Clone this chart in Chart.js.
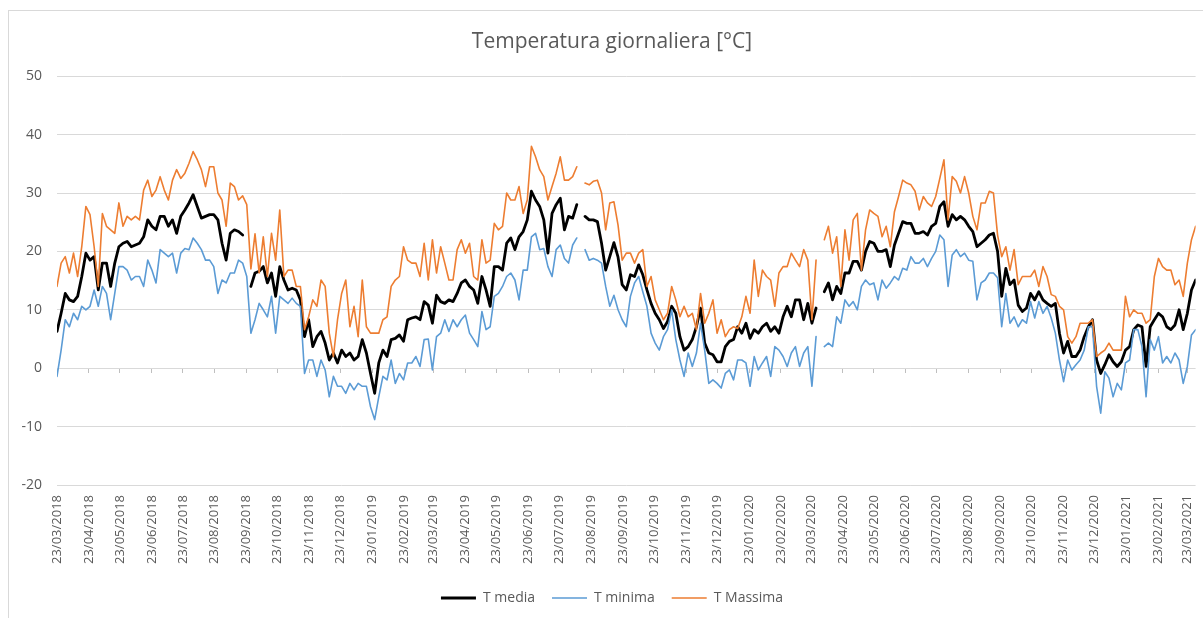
<!DOCTYPE html>
<html lang="it">
<head>
<meta charset="utf-8">
<title>Temperatura giornaliera</title>
<script src="https://cdn.jsdelivr.net/npm/chart.js@4.4.1/dist/chart.umd.min.js"></script>
<style>
  html, body { margin: 0; padding: 0; background: #fff; overflow: hidden; }
  #cornice { position: absolute; left: 8px; top: 10px; width: 1220px; height: 620px; border: 1px solid #d9d9d9; }
  #grafico { display: block; }
</style>
</head>
<body>
<div id="cornice"><canvas id="grafico" width="1204" height="607"></canvas></div>
<script>
// Temperature giornaliere, un valore ogni 4 giorni
// a partire dal 23/03/2018 (null = dato mancante, la linea si interrompe).
const PASSO_GIORNI = 4;
const GIORNO_FINALE = 1104;

const ETICHETTE_DATE = [
  "23/03/2018", "23/04/2018", "23/05/2018", "23/06/2018", "23/07/2018", "23/08/2018",
  "23/09/2018", "23/10/2018", "23/11/2018", "23/12/2018", "23/01/2019", "23/02/2019",
  "23/03/2019", "23/04/2019", "23/05/2019", "23/06/2019", "23/07/2019", "23/08/2019",
  "23/09/2019", "23/10/2019", "23/11/2019", "23/12/2019", "23/01/2020", "23/02/2020",
  "23/03/2020", "23/04/2020", "23/05/2020", "23/06/2020", "23/07/2020", "23/08/2020",
  "23/09/2020", "23/10/2020", "23/11/2020", "23/12/2020", "23/01/2021", "23/02/2021",
  "23/03/2021",
];

const T_MEDIA = [
  6.3, 9.4, 12.8, 11.7, 11.4, 12.3, 15.7, 19.7, 18.5, 19.1, 13.4, 18.0,
  18.0, 14.0, 18.0, 20.8, 21.4, 21.7, 20.8, 21.1, 21.4, 22.5, 25.4, 24.3,
  23.7, 26.0, 26.0, 24.3, 25.4, 23.1, 26.0, 27.1, 28.3, 29.7, 27.7, 25.7,
  26.0, 26.3, 26.3, 25.4, 21.4, 18.5, 23.1, 23.7, 23.4, 22.8, null, 14.0,
  16.3, 16.6, 17.4, 14.6, 16.3, 12.3, 17.4, 15.1, 13.4, 13.7, 13.4, 11.7,
  5.4, 8.3, 3.7, 5.4, 6.3, 4.3, 1.4, 2.6, 0.9, 3.1, 2.0, 2.6,
  1.4, 2.0, 4.9, 2.6, -0.9, -4.3, 0.9, 3.1, 2.0, 4.9, 5.1, 5.7,
  4.6, 8.3, 8.6, 8.8, 8.3, 11.4, 10.8, 7.7, 12.5, 11.4, 11.1, 11.7,
  11.4, 12.8, 14.6, 15.1, 14.0, 13.4, 11.1, 15.7, 13.4, 10.6, 17.4, 17.4,
  16.8, 21.4, 22.3, 20.3, 22.5, 23.4, 25.4, 30.3, 28.8, 27.7, 25.4, 19.7,
  26.5, 28.0, 29.1, 23.7, 26.0, 25.7, 28.0, null, 26.0, 25.4, 25.4, 25.1,
  21.4, 16.8, 19.1, 21.5, 19.0, 14.3, 13.4, 16.0, 15.7, 17.7, 16.0, 13.4,
  11.1, 9.4, 8.3, 6.8, 8.0, 10.6, 9.4, 5.4, 3.1, 3.7, 4.9, 7.1,
  10.3, 4.3, 2.6, 2.3, 1.1, 1.1, 3.7, 4.6, 4.9, 7.1, 6.0, 7.7,
  5.1, 6.6, 6.0, 7.1, 7.7, 6.3, 7.1, 6.0, 8.8, 10.6, 8.8, 11.7,
  11.7, 8.3, 11.1, 7.7, 10.3, null, 13.1, 14.6, 11.7, 14.0, 12.8, 16.3,
  16.3, 18.3, 18.3, 16.8, 20.0, 21.7, 21.4, 20.0, 20.0, 20.3, 17.4, 21.1,
  23.1, 25.1, 24.8, 24.8, 23.1, 23.1, 23.4, 22.8, 24.3, 24.8, 27.7, 28.5,
  24.3, 26.3, 25.4, 26.0, 25.4, 24.3, 23.4, 20.8, 21.4, 22.0, 22.8, 23.1,
  20.0, 12.3, 17.1, 14.3, 15.1, 10.8, 9.7, 10.3, 12.8, 11.7, 13.1, 11.7,
  11.1, 10.6, 11.1, 6.0, 2.6, 4.6, 2.0, 2.0, 3.1, 5.4, 7.1, 8.3,
  1.4, -0.9, 0.6, 2.3, 1.1, 0.3, 1.1, 3.1, 3.7, 6.6, 7.4, 7.1,
  0.3, 7.1, 8.3, 9.4, 8.8, 7.1, 6.6, 7.4, 10.0, 6.6, 9.4, 13.4,
  15.1,
];

const T_MINIMA = [
  -1.4, 3.1, 8.3, 7.1, 9.4, 8.3, 10.6, 10.0, 10.6, 13.4, 10.6, 14.0,
  12.8, 8.3, 12.8, 17.4, 17.4, 16.8, 15.1, 15.7, 15.7, 14.0, 18.5, 16.8,
  14.6, 20.3, 19.7, 19.1, 19.7, 16.3, 19.7, 20.5, 20.3, 22.3, 21.4, 20.3,
  18.5, 18.5, 17.4, 12.8, 15.1, 14.6, 16.3, 16.3, 18.5, 18.0, 15.7, 6.0,
  8.3, 11.1, 10.0, 8.8, 12.3, 6.0, 12.3, 11.7, 11.1, 12.0, 11.1, 10.6,
  -0.9, 1.4, 1.4, -1.4, 1.4, -0.3, -4.9, -1.4, -3.1, -3.1, -4.3, -2.6,
  -3.7, -2.6, -3.1, -3.1, -6.6, -8.8, -4.9, -1.4, -2.0, 1.4, -2.6, -0.9,
  -2.0, 0.9, 0.9, 2.0, 0.3, 4.9, 5.0, -0.3, 5.4, 6.0, 8.3, 6.3,
  8.3, 7.1, 8.3, 9.1, 6.0, 4.9, 3.7, 9.7, 6.6, 7.1, 12.3, 12.8,
  14.0, 15.7, 16.3, 15.1, 11.7, 16.8, 16.8, 22.5, 23.1, 20.3, 20.5, 17.4,
  15.7, 20.3, 21.1, 18.8, 18.0, 21.1, 22.3, null, 20.3, 18.5, 18.8, 18.5,
  18.0, 14.0, 10.6, 12.5, 10.0, 8.3, 7.1, 12.3, 14.6, 15.7, 13.1, 10.6,
  6.0, 4.3, 3.1, 5.4, 6.6, 10.0, 4.9, 1.4, -1.4, 2.6, 0.3, 2.6,
  7.7, 3.1, -2.6, -2.0, -2.6, -3.4, -0.9, -0.3, -2.0, 1.4, 1.4, 0.9,
  -3.1, 2.0, -0.3, 0.9, 2.0, -1.4, 3.7, 3.1, 2.0, 0.3, 2.6, 3.7,
  0.3, 2.6, 3.7, -3.1, 5.4, null, 3.7, 4.3, 3.7, 8.8, 7.7, 11.7,
  10.6, 11.4, 10.0, 14.0, 15.1, 14.3, 14.6, 11.7, 15.1, 13.7, 14.6, 15.7,
  15.1, 17.1, 16.8, 19.1, 18.0, 18.0, 18.8, 17.4, 18.8, 20.0, 22.8, 22.0,
  14.0, 19.4, 20.3, 19.1, 19.7, 18.5, 18.3, 11.7, 14.6, 15.1, 16.3, 16.3,
  15.5, 7.1, 12.8, 7.7, 8.8, 7.1, 8.3, 7.7, 11.4, 8.6, 11.4, 9.4,
  10.6, 8.6, 6.0, 1.4, -2.3, 1.4, -0.3, 0.6, 1.4, 3.1, 7.1, 7.1,
  -3.1, -7.7, -0.6, -1.7, -4.9, -2.6, -3.7, 0.9, 1.4, 6.6, 6.6, 3.7,
  -4.9, 4.9, 3.1, 5.4, 0.9, 2.0, 0.9, 2.6, 1.4, -2.6, 0.3, 5.7,
  6.6,
];

const T_MASSIMA = [
  14.0, 18.0, 19.1, 16.3, 19.7, 15.7, 20.8, 27.7, 26.3, 20.8, 14.0, 26.5,
  24.3, 23.7, 23.1, 28.3, 24.3, 26.0, 25.4, 26.0, 25.4, 30.5, 32.2, 29.4,
  30.5, 32.8, 30.5, 28.8, 32.2, 34.0, 32.5, 33.4, 35.1, 37.1, 35.7, 34.0,
  31.1, 34.5, 34.5, 30.0, 28.8, 24.3, 31.7, 31.1, 28.8, 29.5, 28.0, 17.0,
  23.0, 16.3, 22.5, 15.7, 23.1, 18.5, 27.1, 15.7, 16.8, 16.8, 14.0, 14.0,
  6.6, 8.8, 11.7, 10.6, 15.1, 14.0, 6.0, 2.0, 8.3, 12.8, 15.1, 7.1,
  10.6, 5.4, 15.1, 7.1, 6.0, 6.0, 6.0, 8.3, 8.8, 14.0, 15.1, 15.7,
  20.8, 18.5, 18.0, 18.0, 15.7, 21.4, 15.1, 22.0, 16.3, 20.8, 18.0, 15.1,
  15.1, 20.3, 22.0, 19.7, 21.4, 15.7, 15.1, 22.0, 18.0, 18.5, 24.8, 23.7,
  24.3, 30.0, 28.8, 28.8, 31.1, 26.5, 28.8, 38.0, 36.2, 34.0, 32.8, 28.8,
  31.1, 33.4, 36.2, 32.2, 32.2, 32.8, 34.5, null, 31.7, 31.4, 32.0, 32.2,
  30.0, 23.7, 28.3, 28.5, 24.5, 18.5, 19.7, 19.7, 18.0, 19.7, 20.3, 14.0,
  15.7, 11.7, 10.0, 8.3, 9.4, 14.0, 11.7, 8.8, 10.6, 8.8, 9.4, 6.6,
  12.8, 7.7, 9.4, 11.7, 6.0, 8.3, 5.4, 6.6, 7.1, 6.8, 8.8, 12.3,
  9.4, 18.5, 12.3, 16.8, 15.7, 15.1, 10.6, 16.3, 17.4, 17.4, 19.7, 18.5,
  17.4, 20.3, 18.5, 8.3, 18.5, null, 22.0, 24.3, 19.7, 22.5, 14.0, 23.7,
  18.5, 25.4, 26.5, 16.8, 23.7, 27.1, 26.5, 26.0, 22.5, 24.3, 20.8, 26.8,
  29.4, 32.2, 31.7, 31.4, 30.3, 27.1, 29.4, 28.3, 27.7, 29.4, 32.5, 35.7,
  25.4, 32.8, 32.0, 30.0, 32.8, 30.0, 26.0, 23.7, 28.3, 28.3, 30.3, 30.0,
  22.8, 19.1, 20.8, 16.8, 20.3, 14.3, 15.7, 15.7, 15.7, 16.8, 14.0, 17.4,
  15.7, 12.6, 12.3, 10.6, 10.0, 5.4, 4.3, 5.4, 7.7, 7.7, 7.7, 8.3,
  2.0, 2.6, 3.1, 4.3, 3.1, 3.1, 3.1, 12.3, 8.8, 10.0, 9.4, 9.4,
  7.7, 8.3, 15.7, 18.8, 17.4, 16.8, 16.8, 14.3, 15.1, 12.3, 18.0, 22.0,
  24.3,
];

const COLORE_TESTO = "#595959";
const COLORE_GRIGLIA = "#d9d9d9";

// giorni trascorsi dal 23/03/2018 per una data "gg/mm/aaaa"
function giorniDalPrimo(data) {
  const [g, m, a] = data.split("/").map(Number);
  return (Date.UTC(a, m - 1, g) - Date.UTC(2018, 2, 23)) / 86400000;
}
const TICK_GIORNI = ETICHETTE_DATE.map(giorniDalPrimo);

function punti(serie) {
  return serie.map((v, i) => ({ x: i * PASSO_GIORNI, y: v }));
}

function tickMensili(scale) {
  scale.ticks = TICK_GIORNI.map(v => ({ value: v }));
}

Chart.defaults.font.family = "'Open Sans', sans-serif";
Chart.defaults.color = COLORE_TESTO;

new Chart(document.getElementById("grafico"), {
  type: "line",
  data: {
    datasets: [
      { label: "T media", data: punti(T_MEDIA), borderColor: "#000000", backgroundColor: "#000000", borderWidth: 2.8, order: 2 },
      { label: "T minima", data: punti(T_MINIMA), borderColor: "#5b9bd5", backgroundColor: "#5b9bd5", borderWidth: 1.6, order: 1 },
      { label: "T Massima", data: punti(T_MASSIMA), borderColor: "#ed7d31", backgroundColor: "#ed7d31", borderWidth: 1.6, order: 0 },
    ],
  },
  options: {
    responsive: false,
    animation: false,
    events: [],
    elements: {
      point: { radius: 0 },
      line: { tension: 0, borderJoinStyle: "round", borderCapStyle: "round" },
    },
    // il riquadro originale prosegue oltre il bordo destro della finestra:
    // il canvas è più largo della pagina, titolo e legenda restano centrati sul riquadro
    layout: { padding: { left: 10, right: 8, top: 0, bottom: 3 } },
    plugins: {
      title: {
        display: true,
        text: "Temperatura giornaliera [°C]",
        color: COLORE_TESTO,
        font: { size: 21, weight: "normal" },
        padding: { top: 18, bottom: 22 },
      },
      legend: {
        position: "bottom",
        labels: {
          usePointStyle: true,
          pointStyle: "line",
          pointStyleWidth: 35,
          padding: 17,
          color: COLORE_TESTO,
          font: { size: 14 },
          sort: (a, b) => a.datasetIndex - b.datasetIndex,
        },
      },
      tooltip: { enabled: false },
    },
    scales: {
      x: {
        type: "linear",
        min: 0,
        max: GIORNO_FINALE,
        afterBuildTicks: tickMensili,
        grid: { display: false, drawTicks: false },
        border: { display: false },
        ticks: {
          autoSkip: false,
          minRotation: 90,
          maxRotation: 90,
          padding: 10,
          color: COLORE_TESTO,
          font: { size: 13 },
          callback: (v, i) => ETICHETTE_DATE[i],
        },
      },
      xZero: {
        type: "linear",
        axis: "x",
        min: 0,
        max: GIORNO_FINALE,
        position: { y: 0 },
        afterBuildTicks: tickMensili,
        ticks: { display: false },
        grid: { drawOnChartArea: false, tickLength: 5, color: "#bfbfbf" },
        border: { display: false },
      },
      y: {
        min: -20,
        max: 50,
        afterFit: s => { s.width = 38; },
        ticks: { stepSize: 10, padding: 15, color: COLORE_TESTO, font: { size: 14 } },
        grid: { color: COLORE_GRIGLIA, drawTicks: false },
        border: { display: false },
      },
    },
  },
});
</script>
</body>
</html>
